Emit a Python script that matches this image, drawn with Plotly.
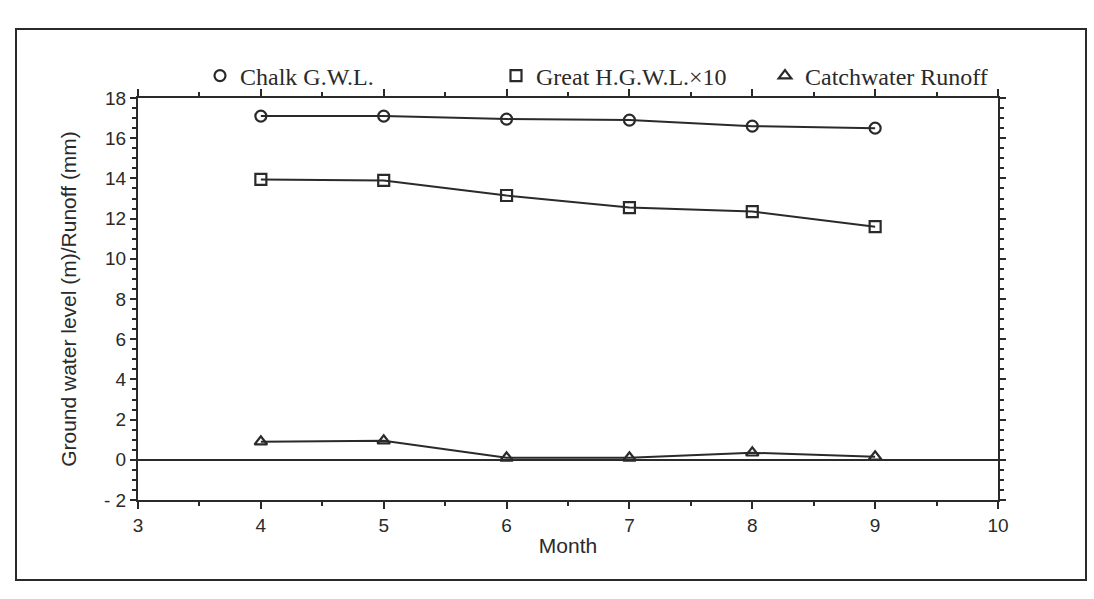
import plotly.graph_objects as go

months = [4, 5, 6, 7, 8, 9]
chalk_gwl = [17.1, 17.1, 16.95, 16.9, 16.6, 16.5]
great_hgwl_x10 = [13.95, 13.9, 13.15, 12.55, 12.35, 11.6]
catchwater_runoff = [0.9, 0.95, 0.1, 0.1, 0.35, 0.15]

y_tickvals = [-2, 0, 2, 4, 6, 8, 10, 12, 14, 16, 18]
y_ticktext = ["- 2", "0", "2", "4", "6", "8", "10", "12", "14", "16", "18"]
x_tickvals = [3, 4, 5, 6, 7, 8, 9, 10]

W, H = 1094, 599
L, R, T, B = 138, 96, 98, 99
PW, PH = W - L - R, H - T - B


def px(x):
    return (x - L) / PW


def py(y):
    return 1 - (y - T) / PH


ink = "#2a2a2a"
fig = go.Figure()

series = [
    ("Chalk G.W.L.", chalk_gwl, "circle-open", "legend"),
    ("Great H.G.W.L.×10", great_hgwl_x10, "square-open", "legend2"),
    ("Catchwater Runoff", catchwater_runoff, "triangle-up-open", "legend3"),
]
for name, vals, sym, lg in series:
    fig.add_trace(go.Scatter(
        x=months, y=vals, mode="lines+markers", showlegend=False,
        line=dict(color=ink, width=2),
        marker=dict(symbol=sym, size=11, color=ink, line=dict(width=2.2, color=ink)),
    ))
    fig.add_trace(go.Scatter(
        x=[None], y=[None], mode="markers", name=name, legend=lg,
        marker=dict(symbol=sym, size=11, color=ink, line=dict(width=2.2, color=ink)),
    ))

legend_font = dict(family="Liberation Serif", size=24, color=ink)
leg_common = dict(font=legend_font, bgcolor="rgba(0,0,0,0)", yanchor="middle",
                  xanchor="left", y=py(76), itemwidth=30)

fig.update_layout(
    width=W, height=H,
    margin=dict(l=L, r=R, t=T, b=B),
    paper_bgcolor="white", plot_bgcolor="white",
    font=dict(family="Liberation Sans", size=18, color=ink),
    legend=dict(x=px(200), **leg_common),
    legend2=dict(x=px(496), **leg_common),
    legend3=dict(x=px(765), **leg_common),
    xaxis=dict(
        range=[3, 10], tickvals=x_tickvals, ticks="outside", ticklen=7, tickwidth=2,
        tickcolor=ink, showline=True, linewidth=2, linecolor=ink, mirror="allticks",
        showgrid=False, zeroline=False,
        minor=dict(dtick=0.5, ticks="outside", ticklen=4, tickwidth=2, tickcolor=ink, showgrid=False),
        title=dict(text="Month", font=dict(size=21), standoff=4),
        tickfont=dict(size=19),
    ),
    yaxis=dict(
        range=[-2, 18], tickvals=y_tickvals, ticktext=y_ticktext, ticks="outside",
        ticklen=6, tickwidth=2, tickcolor=ink, showline=True, linewidth=2, linecolor=ink,
        mirror="allticks", showgrid=False,
        zeroline=True, zerolinecolor=ink, zerolinewidth=1.8,
        minor=dict(dtick=0.5, ticks="outside", ticklen=4, tickwidth=1.5, tickcolor=ink, showgrid=False),
        title=dict(text="Ground water level (m)/Runoff (mm)", font=dict(size=21), standoff=22),
        tickfont=dict(size=19),
    ),
    shapes=[dict(
        type="rect", xref="paper", yref="paper",
        x0=px(16), x1=px(1086), y0=py(580), y1=py(29),
        line=dict(color=ink, width=2), fillcolor="rgba(0,0,0,0)", layer="below",
    )],
)

fig.write_html("out.html")
